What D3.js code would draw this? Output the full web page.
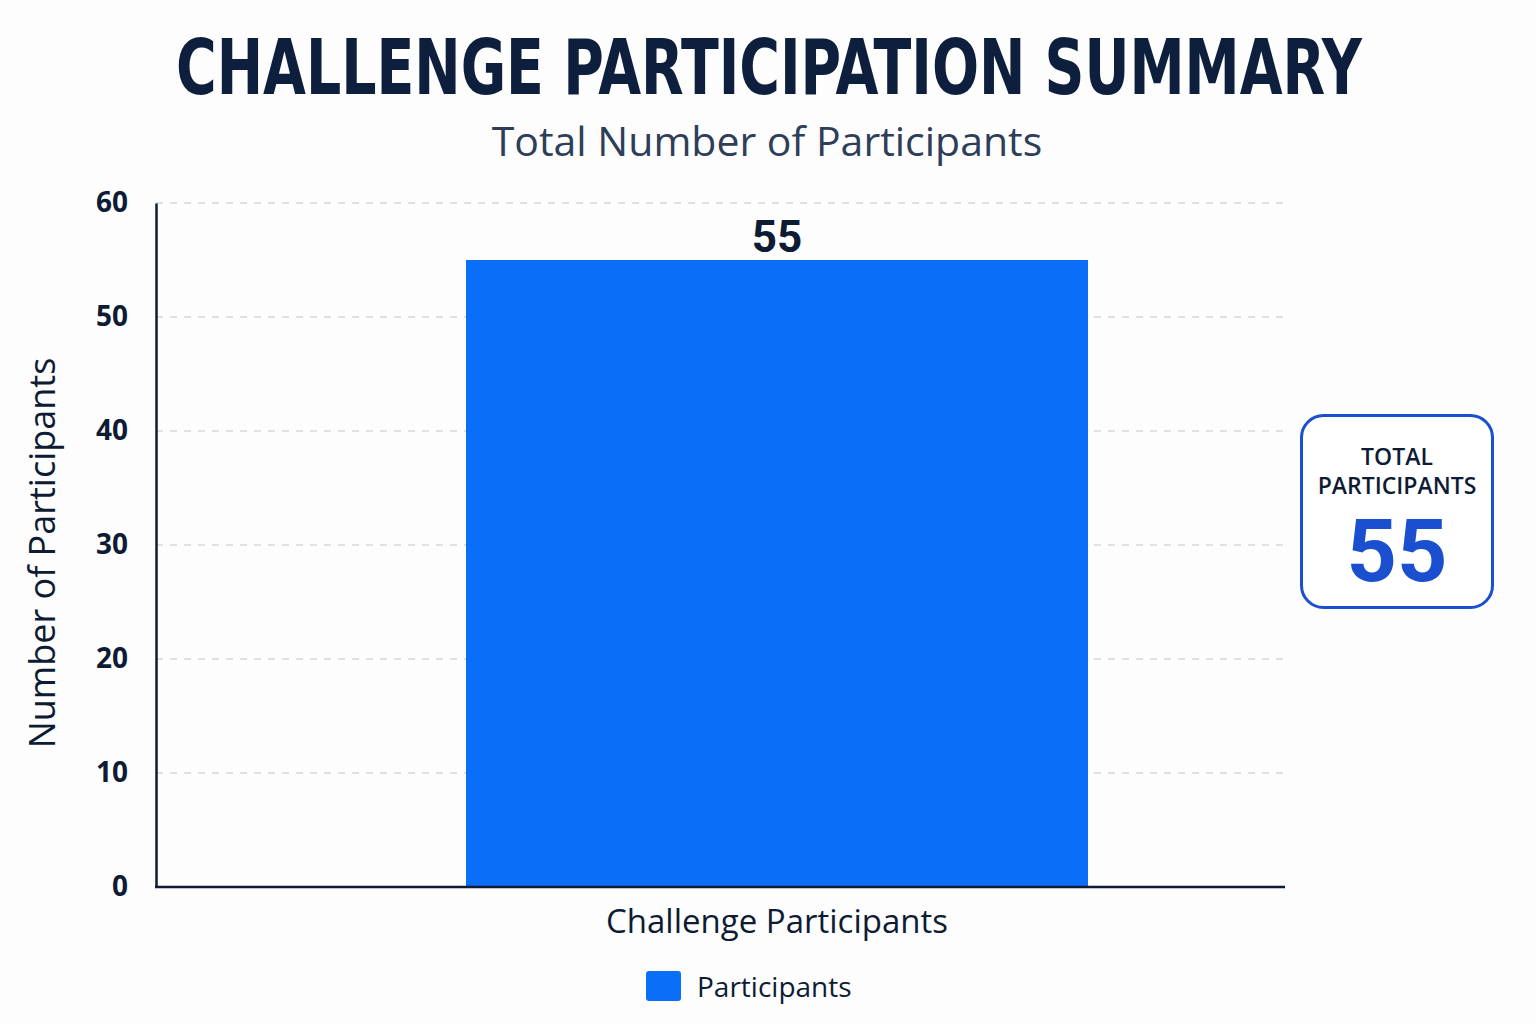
<!DOCTYPE html>
<html><head><meta charset="utf-8">
<script src="https://cdn.jsdelivr.net/npm/d3@7"></script>
<style>
html,body{margin:0;padding:0;background:#fdfdfe;}
svg{display:block;}
</style></head>
<body><svg id="chart" width="1536" height="1024"></svg>
<script>
const categories = ["Challenge Participants"];
const values = [55];
const seriesName = "Participants";
const yTicks = [0, 10, 20, 30, 40, 50, 60];
const titleText = "CHALLENGE PARTICIPATION SUMMARY";
const subtitleText = "Total Number of Participants";
const yLabel = "Number of Participants";
const totalLabel = ["TOTAL", "PARTICIPANTS"];

(function(){
const svg = d3.select("#chart");
const pLeft = 156, pRight = 1285, pTop = 203, pBottom = 887;
const barBlue = "#0b6ef9", dark = "#0d1b33";

svg.append("rect").attr("width",1536).attr("height",1024).attr("fill","#fdfdfe");

const y = d3.scaleLinear().domain([0,60]).range([pBottom, pTop]);
const x = d3.scaleBand().domain(categories).range([pLeft, 1398]).padding(0.3326);

// grid
svg.append("g").selectAll("line").data(yTicks.filter(d=>d>0)).join("line")
  .attr("x1", pLeft).attr("x2", pRight)
  .attr("y1", d=>y(d)).attr("y2", d=>y(d))
  .attr("stroke","#d3d7de").attr("stroke-width",1.5).attr("stroke-dasharray","7,7");

// bars
svg.append("g").selectAll("rect").data(values).join("rect")
  .attr("x", (d,i)=>x(categories[i])).attr("width", x.bandwidth())
  .attr("y", d=>y(d)).attr("height", d=>pBottom - y(d))
  .attr("fill", barBlue);

// value labels
svg.append("g").selectAll("text").data(values).join("text")
  .attr("x",(d,i)=>x(categories[i])+x.bandwidth()/2).attr("y", d=>y(d)-8)
  .attr("text-anchor","middle").attr("font-family","Roboto, 'Noto Sans', sans-serif")
  .attr("font-weight",700).attr("font-size",44).attr("fill",dark).text(d=>d);

// y axis
const yAxis = d3.axisLeft(y).tickValues(yTicks).tickSize(0).tickPadding(28);
const ga = svg.append("g").attr("transform",`translate(${pLeft},0)`).call(yAxis);
ga.select(".domain").attr("stroke",dark).attr("stroke-width",2.5);
ga.selectAll("text").attr("font-family","'Open Sans', 'Noto Sans', sans-serif").attr("font-weight",700)
  .attr("font-size",28).attr("fill",dark);

// x axis line
const xAxis = d3.axisBottom(x).tickSize(0).tickFormat("");
const gx = svg.append("g").attr("transform",`translate(0,${pBottom})`).call(xAxis);
gx.select(".domain").remove();
svg.append("line").attr("x1",pLeft-1).attr("x2",pRight).attr("y1",pBottom).attr("y2",pBottom)
  .attr("stroke",dark).attr("stroke-width",2.5);

// x category label
svg.append("g").selectAll("text").data(categories).join("text")
  .attr("x", d=>x(d)+x.bandwidth()/2).attr("y", 933)
  .attr("text-anchor","middle").attr("font-family","'Open Sans', 'Noto Sans', sans-serif")
  .attr("font-weight",500).attr("font-size",33).attr("fill",dark).text(d=>d);

// y label
svg.append("text").attr("transform","translate(55,553) rotate(-90)")
  .attr("text-anchor","middle").attr("font-family","'Open Sans', 'Noto Sans', sans-serif")
  .attr("font-weight",500).attr("font-size",36).attr("fill",dark).text(yLabel);

// title (scaled horizontally to match width)
const title = svg.append("text").attr("text-anchor","middle")
  .attr("font-family","'DejaVu Sans Condensed', 'Liberation Sans Narrow', sans-serif")
  .attr("font-weight",700).attr("font-size",76).attr("fill","#0d1f3c").text(titleText);
const tw = title.node().getComputedTextLength();
title.attr("transform",`translate(769,94) scale(${1186/tw},1)`);

svg.append("text").attr("x",767).attr("y",156).attr("text-anchor","middle")
  .attr("font-family","'Open Sans', 'Noto Sans', sans-serif")
  .attr("font-weight",500).attr("font-size",41).attr("fill","#2e3e58").text(subtitleText);

// legend
svg.append("rect").attr("x",646).attr("y",971).attr("width",35).attr("height",30).attr("rx",3)
  .attr("fill",barBlue);
svg.append("text").attr("x",697).attr("y",997).attr("font-family","'Open Sans', 'Noto Sans', sans-serif")
  .attr("font-weight",500).attr("font-size",28).attr("fill",dark).text(seriesName);

// total box
svg.append("rect").attr("x",1301.5).attr("y",415.5).attr("width",191).attr("height",192).attr("rx",22)
  .attr("fill","#ffffff").attr("stroke","#1a4fd0").attr("stroke-width",3);
svg.append("g").selectAll("text").data(totalLabel).join("text")
  .attr("x",1397).attr("y",(d,i)=>465+i*29).attr("text-anchor","middle")
  .attr("font-family","'Open Sans', 'Noto Sans', sans-serif").attr("font-weight",600)
  .attr("font-size",23).attr("fill",dark).text(d=>d);
svg.append("text").attr("x",1397).attr("y",581).attr("text-anchor","middle")
  .attr("font-family","Roboto, 'Noto Sans', sans-serif").attr("font-weight",700)
  .attr("font-size",88).attr("fill","#1a4fd0").text(d3.sum(values));
})();
</script></body></html>
